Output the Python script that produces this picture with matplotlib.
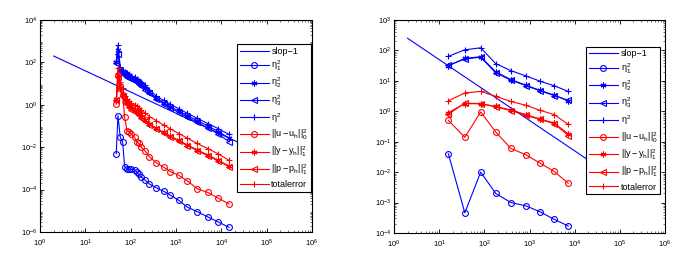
import numpy as np
import matplotlib
matplotlib.use("Agg")
import matplotlib.pyplot as plt
from matplotlib.ticker import LogLocator, FixedLocator, NullFormatter

plt.rcParams['font.family'] = ['Liberation Sans', 'DejaVu Sans']
plt.rcParams['mathtext.fontset'] = 'custom'
plt.rcParams['mathtext.rm'] = 'Liberation Sans'
plt.rcParams['mathtext.it'] = 'Liberation Sans'
plt.rcParams['mathtext.bf'] = 'Liberation Sans:bold'

# ---- left panel data ----
dof_l = [48, 52.5, 59, 66.5, 73.6, 83, 92, 103, 122, 136, 150, 172, 211, 259,
         364, 538, 756, 1157, 1768, 2942, 5070, 8590, 14780]
eta1_l = [0.0050, 0.31, 0.029, 0.018, 0.0012, 0.00094, 0.0009, 0.0009, 0.00088,
          0.00068, 5.2e-4, 3.8e-4, 2.7e-4, 1.84e-4, 1.23e-4, 8.3e-5, 5.4e-5,
          3.1e-5, 1.5e-5, 9.1e-6, 5.1e-6, 2.95e-6, 1.67e-6]
eta2_l = [100, 400, 45, 35, 28, 24, 22, 19, 16, 13.5, 11, 9.2, 6.0, 4.0, 2.1,
          1.25, 0.82, 0.5, 0.31, 0.18, 0.1, 0.055, 0.027]
eta3_l = [90, 250, 40, 30, 25, 21, 19, 16, 14, 12, 9.5, 8, 5.2, 3.5, 1.8,
          1.1, 0.7, 0.43, 0.26, 0.15, 0.08, 0.042, 0.018]
eta_l = [120, 650, 60, 45, 35, 30, 28, 24, 20, 17, 14, 12, 8.2, 5.2, 2.6,
         1.6, 1.05, 0.65, 0.4, 0.23, 0.13, 0.075, 0.04]
uerr_l = [1.1, 26, 8, 3, 0.26, 0.06, 0.054, 0.042, 0.029, 0.018, 0.015, 0.0098,
          0.0064, 0.0036, 0.00187, 0.00113, 7e-4, 4.7e-4, 2.6e-4, 1.1e-4,
          7.3e-5, 3.9e-5, 2.1e-5]
yerr_l = [1.8, 25, 6, 3, 1.6, 1.2, 0.9, 0.68, 0.55, 0.45, 0.36, 0.28, 0.19,
          0.13, 0.08, 0.05, 0.033, 0.021, 0.013, 0.0075, 0.0043, 0.0024, 0.0013]
perr_l = [1.6, 20, 5, 2.5, 1.4, 1.1, 0.8, 0.6, 0.5, 0.4, 0.32, 0.25, 0.17,
          0.115, 0.072, 0.045, 0.03, 0.019, 0.012, 0.0068, 0.0039, 0.0022, 0.0012]
total_l = [1.5, 55, 12, 6, 2.5, 1.9, 1.5, 1.2, 1.0, 0.85, 0.7, 0.55, 0.4, 0.28,
           0.18, 0.11, 0.072, 0.044, 0.027, 0.015, 0.0085, 0.0048, 0.0024]

# ---- right panel data ----
dof_r = [16, 37, 83, 178, 388, 833, 1700, 3530, 7200]
eta1_r = [0.04, 4.6e-4, 0.01, 2e-3, 1e-3, 7.8e-4, 5e-4, 2.8e-4, 1.7e-4]
eta2_r = [31, 55, 62, 20, 11, 7.2, 4.9, 3.4, 2.2]
eta3_r = [33, 52, 60, 18.5, 10.5, 7.0, 4.7, 3.3, 2.3]
eta_r = [64, 105, 122, 37, 21.6, 14.5, 9.8, 6.9, 4.5]
uerr_r = [0.5, 0.14, 0.95, 0.21, 0.06, 0.037, 0.02, 0.0105, 0.0043]
yerr_r = [0.9, 1.8, 1.75, 1.45, 1.1, 0.78, 0.56, 0.41, 0.18]
perr_r = [0.8, 1.85, 1.8, 1.4, 1.05, 0.74, 0.54, 0.39, 0.16]
total_r = [2.2, 4.0, 4.5, 3.1, 2.1, 1.57, 1.08, 0.78, 0.37]

slope_x = [2, 1e5]
slope_c_l = 400.0
slope_c_r = 500.0

labels = ['slop\u22121', r'$\eta_1^2$', r'$\eta_2^2$', r'$\eta_3^2$', r'$\eta^2$',
          r'$||u-u_h||_0^2$', r'$||y-y_h||_1^2$', r'$||p-p_h||_1^2$', 'totalerror']

ast = (6, 2, 0)
styles = [
    dict(color='b', marker='o', mfc='none'),
    dict(color='b', marker=ast),
    dict(color='b', marker='<', mfc='none'),
    dict(color='b', marker='+'),
    dict(color='r', marker='o', mfc='none'),
    dict(color='r', marker=ast),
    dict(color='r', marker='<', mfc='none'),
    dict(color='r', marker='+'),
]


def draw(ax, x, series, c, ylim, ymajor, legend_anchor):
    sx = np.array(slope_x, dtype=float)
    ax.plot(sx, c / sx, color='b', lw=0.8, label=labels[0])
    for s, lab, st in zip(series, labels[1:], styles):
        ax.plot(x, s, lw=0.8, ms=4.2, mew=0.8, label=lab, **st)
    ax.set_xscale('log')
    ax.set_yscale('log')
    ax.set_xlim(1, 1e6)
    ax.set_ylim(*ylim)
    ax.xaxis.set_major_locator(FixedLocator([10.0 ** k for k in range(0, 7)]))
    ax.xaxis.set_minor_locator(LogLocator(base=10, subs=np.arange(2, 10), numticks=20))
    ax.xaxis.set_minor_formatter(NullFormatter())
    ax.yaxis.set_major_locator(FixedLocator(ymajor))
    ax.yaxis.set_minor_locator(LogLocator(base=10, subs=np.arange(2, 10), numticks=20))
    ax.yaxis.set_minor_formatter(NullFormatter())
    ax.tick_params(which='both', direction='in', top=True, right=True, labelsize=5.5)
    ax.tick_params(axis='x', pad=4)
    ax.tick_params(axis='y', pad=2)
    ax.tick_params(which='major', length=3, width=0.6)
    ax.tick_params(which='minor', length=1.5, width=0.4)
    for sp in ax.spines.values():
        sp.set_linewidth(0.8)
    leg = ax.legend(loc='upper right', bbox_to_anchor=legend_anchor, fontsize=6.5,
                    frameon=True, fancybox=False, framealpha=1, edgecolor='k',
                    handlelength=3.2, handletextpad=0.3, labelspacing=0.35,
                    borderpad=0.3, borderaxespad=0)
    leg.get_frame().set_linewidth(0.8)
    leg.set_zorder(10)


fig = plt.figure(figsize=(6.95, 2.59), dpi=100)
ax1 = fig.add_axes([40 / 695, 27 / 259, 272 / 695, 212 / 259])
ax2 = fig.add_axes([394 / 695, 26 / 259, 271 / 695, 213 / 259])

draw(ax1, dof_l, [eta1_l, eta2_l, eta3_l, eta_l, uerr_l, yerr_l, perr_l, total_l],
     slope_c_l, (1e-6, 1e4), [10.0 ** k for k in range(-6, 5, 2)], (0.996, 0.887))
draw(ax2, dof_r, [eta1_r, eta2_r, eta3_r, eta_r, uerr_r, yerr_r, perr_r, total_r],
     slope_c_r, (1e-4, 1e3), [10.0 ** k for k in range(-4, 4)], (0.982, 0.875))

fig.savefig('out.png', dpi=100)
